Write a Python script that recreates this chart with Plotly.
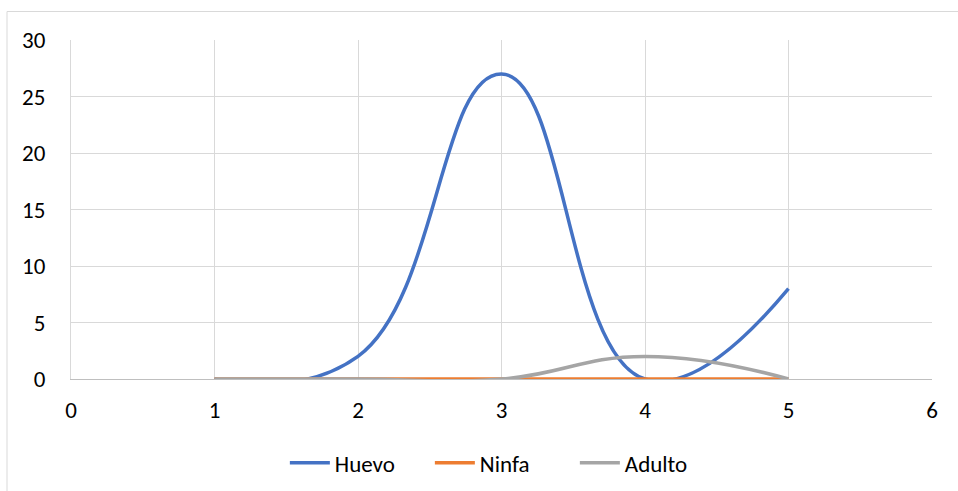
import plotly.graph_objects as go

# Stage counts per sampling point
x_vals = [1, 2, 3, 4, 5]
huevo = [0, 2, 27, 0, 8]
ninfa = [0, 0, 0, 0, 0]
adulto = [0, 0, 0, 2, 0]

series = [
    ("Huevo", huevo, "#4472C4"),
    ("Ninfa", ninfa, "#ED7D31"),
    ("Adulto", adulto, "#A5A5A5"),
]

FONT = "Carlito, Calibri, Lato, sans-serif"
FS = 23

fig = go.Figure()
for name, vals, color in series:
    fig.add_trace(go.Scatter(
        x=x_vals, y=vals, name=name, mode="lines",
        line=dict(color=color, width=3.5, shape="spline", smoothing=1.3),
        cliponaxis=True,
    ))

W, H = 958, 491
L, R, T, B = 71, 26, 40, 112
pw, ph = W - L - R, H - T - B

# Outer chart frame (left and top edges)
fx0 = (7 - L) / pw
fy1 = (H - B - 11.5) / ph
fig.add_shape(type="line", xref="paper", yref="paper", x0=fx0, x1=(W - L) / pw,
              y0=fy1, y1=fy1, line=dict(color="#D9D9D9", width=1))
fig.add_shape(type="line", xref="paper", yref="paper", x0=fx0, x1=fx0,
              y0=fy1, y1=-(B + 5) / ph, line=dict(color="#D9D9D9", width=1))

fig.update_layout(
    width=W, height=H,
    margin=dict(l=L, r=R, t=T, b=B, autoexpand=False),
    paper_bgcolor="white", plot_bgcolor="white",
    font=dict(family=FONT, size=FS, color="#000000"),
    showlegend=True,
    legend=dict(orientation="h", x=0.501, xanchor="center", y=-0.184, yanchor="top",
                font=dict(family=FONT, size=FS), itemwidth=40,
                entrywidth=90, entrywidthmode="pixels"),
    xaxis=dict(range=[0, 6], dtick=1, tick0=0, showgrid=True, gridcolor="#D9D9D9",
               gridwidth=1, zeroline=False, showline=True, linecolor="#BFBFBF",
               linewidth=1, ticks="", ticklabelstandoff=10, automargin=False,
               tickfont=dict(family=FONT, size=FS)),
    yaxis=dict(range=[0, 30], dtick=5, tick0=0, showgrid=True, gridcolor="#D9D9D9",
               gridwidth=1, zeroline=False, showline=True, linecolor="#D9D9D9",
               linewidth=1, ticks="", ticklabelstandoff=20, automargin=False,
               tickfont=dict(family=FONT, size=FS)),
)

fig.write_html("out.html")
